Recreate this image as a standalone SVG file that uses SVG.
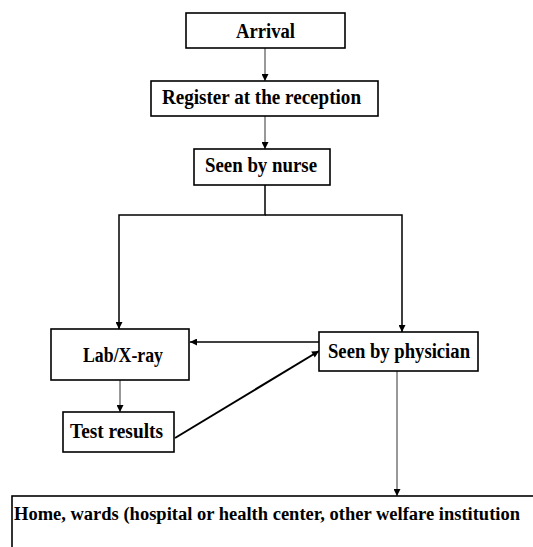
<svg xmlns="http://www.w3.org/2000/svg" width="533" height="547" viewBox="0 0 533 547">
  <style>
    .box { fill: #fff; stroke: #000; stroke-width: 1.6; }
    .lbl { font-family: "Liberation Serif", "Times New Roman", serif; font-weight: bold; font-size: 20px; fill: #000; }
    .lbl.wide { font-size: 18px; }
    .thin { fill: none; stroke: #333; stroke-width: 1; }
    .line { fill: none; stroke: #000; stroke-width: 1.5; }
    .diag { fill: none; stroke: #000; stroke-width: 2; }
  </style>
  <defs>
    <marker id="ah" viewBox="0 0 10 10" refX="10" refY="5" markerWidth="9" markerHeight="7" markerUnits="userSpaceOnUse" orient="auto">
      <path d="M0,0 L10,5 L0,10 Z" fill="#000"/>
    </marker>
  </defs>
  <rect width="533" height="547" fill="#fff"/>

  <g id="connectors">
    <line class="thin" x1="265" y1="48" x2="265" y2="81" marker-end="url(#ah)"/>
    <line class="thin" x1="265" y1="116" x2="265" y2="149" marker-end="url(#ah)"/>
    <polyline class="line" points="265,185 265,215 119,215 119,329" marker-end="url(#ah)"/>
    <polyline class="line" points="265,215 402,215 402,332" marker-end="url(#ah)"/>
    <line class="line" x1="319" y1="342" x2="190" y2="342" marker-end="url(#ah)"/>
    <line class="thin" x1="120" y1="380" x2="120" y2="412" marker-end="url(#ah)"/>
    <line class="diag" x1="175" y1="438" x2="319" y2="351" marker-end="url(#ah)"/>
    <line class="thin" x1="397" y1="371" x2="397" y2="496" marker-end="url(#ah)"/>
  </g>

  <g id="arrival">
    <rect class="box" x="186" y="13" width="159" height="35"/>
    <text class="lbl" x="236" y="38" textLength="59" lengthAdjust="spacingAndGlyphs">Arrival</text>
  </g>
  <g id="register">
    <rect class="box" x="151" y="81" width="227" height="35"/>
    <text class="lbl" x="162" y="104" textLength="199" lengthAdjust="spacingAndGlyphs">Register at the reception</text>
  </g>
  <g id="nurse">
    <rect class="box" x="194" y="149" width="136" height="36"/>
    <text class="lbl" x="205" y="172" textLength="112" lengthAdjust="spacingAndGlyphs">Seen by nurse</text>
  </g>
  <g id="lab">
    <rect class="box" x="51" y="329" width="138" height="51"/>
    <text class="lbl" x="83" y="362" textLength="80" lengthAdjust="spacingAndGlyphs">Lab/X-ray</text>
  </g>
  <g id="physician">
    <rect class="box" x="319" y="332" width="159" height="39"/>
    <text class="lbl" x="328" y="358" textLength="142" lengthAdjust="spacingAndGlyphs">Seen by physician</text>
  </g>
  <g id="results">
    <rect class="box" x="63" y="412" width="111" height="40"/>
    <text class="lbl" x="70" y="438" textLength="93" lengthAdjust="spacingAndGlyphs">Test results</text>
  </g>
  <g id="outcome">
    <rect class="box" x="12" y="496" width="540" height="70"/>
    <text class="lbl wide" x="14" y="520" textLength="506" lengthAdjust="spacingAndGlyphs">Home, wards (hospital or health center, other welfare institution</text>
  </g>
</svg>
